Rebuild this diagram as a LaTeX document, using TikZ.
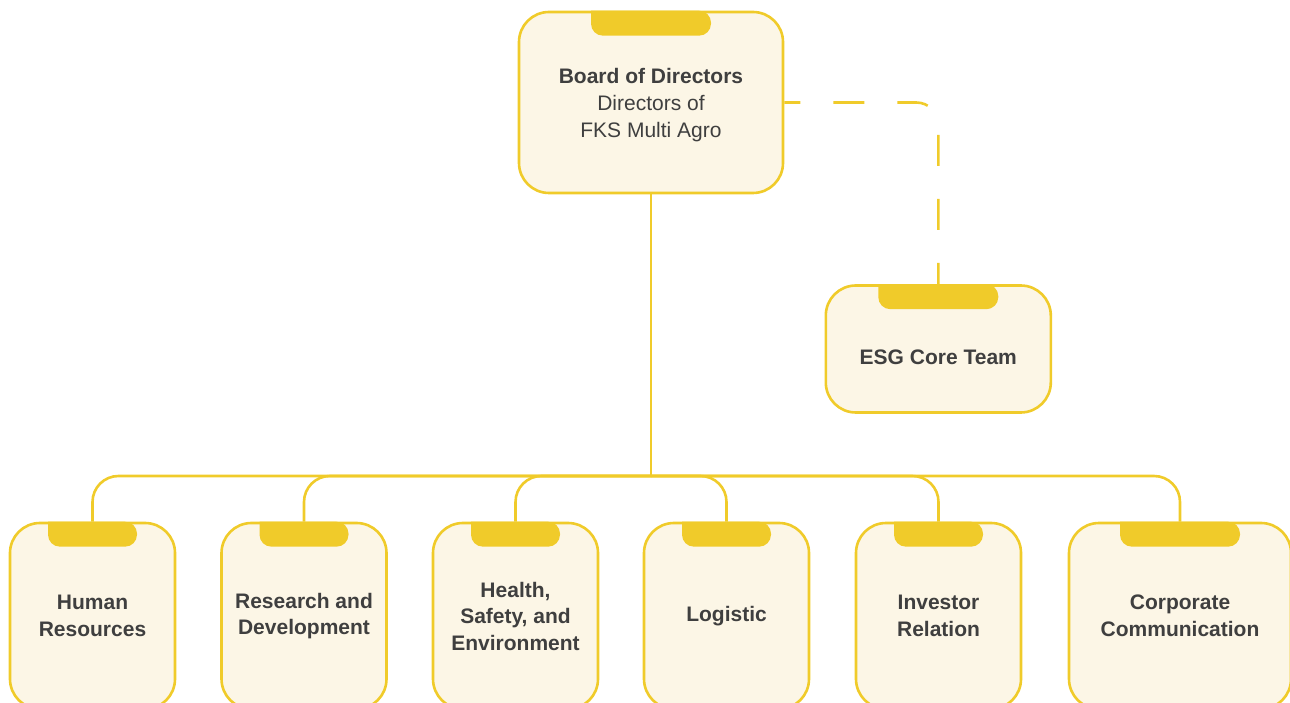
\documentclass[tikz,border=0pt]{standalone}
\usepackage{fontspec}
\setmainfont{Liberation Sans}
\usetikzlibrary{calc}

\definecolor{esgyellow}{HTML}{F0CB2A}
\definecolor{esgcream}{HTML}{FCF6E6}
\definecolor{esgtext}{HTML}{3F3F3F}

\begin{document}
\begin{tikzpicture}[x=1pt,y=1pt]


 \tikzset{
    box/.style={
      rectangle,
      rounded corners=30,
      draw=esgyellow,
      fill=esgcream,
      line width=2.6pt,
      minimum width=165,
      minimum height=186,
      inner sep=0,
      align=center,
      text=esgtext,
      font=\fontsize{21}{26.5}\selectfont\bfseries
    },
    boxtext/.style={
      inner sep=0,
      align=center,
      text=esgtext,
      font=\fontsize{21}{27}\selectfont\bfseries
    },
    link/.style={draw=esgyellow, line width=2.6pt},
    dashlink/.style={link, dash pattern=on 31pt off 33pt, dash phase=15pt}
  }

\useasboundingbox (0,0) rectangle (1290,702);
\clip (0,0) rectangle (1290,702);

\node[box, minimum width=264, minimum height=181] (board) at (651,599.5) {};
\node[boxtext] (boardname) at ([yshift=-3]board.center)
  {Board of Directors\\ \mdseries Directors of\\ \mdseries FKS Multi Agro};

\node[box, minimum width=225, minimum height=127] (esg) at (938.3,353) {};
\node[boxtext] (esgname) at ([yshift=-8]esg.center) {ESG Core Team};

\node[box] (hr) at (92.5,86) {Human\\Resources};
\node[box] (rd) at (304,86) {Research and\\Development};
\node[box] (hse) at (515.5,86) {Health,\\Safety, and\\Environment};
\node[box] (log) at (726.5,86) {Logistic};
\node[box] (inv) at (938.5,86) {Investor\\Relation};
\node[box, minimum width=222] (cc) at (1180,86) {Corporate\\Communication};

% tabs on top of every box
\foreach \n/\w in {board/120, esg/120, hr/89, rd/89, hse/89, log/89, inv/89, cc/120}
  \fill[esgyellow] ([xshift=-\w/2]\n.north) [rounded corners=12] -- ++(0,-25)
    -- ++(\w,0) -- ++(0,25) [sharp corners] -- cycle;

% connectors
\coordinate (bus) at (651,226);
\draw[link] (board.south) -- (bus);
\foreach \n in {hr,rd,hse,log,inv,cc}
  \draw[link, rounded corners=26] (bus) -| (\n.north);

\draw[dashlink, rounded corners=22] (board.east) -| (esg.north);
\end{tikzpicture}
\end{document}
